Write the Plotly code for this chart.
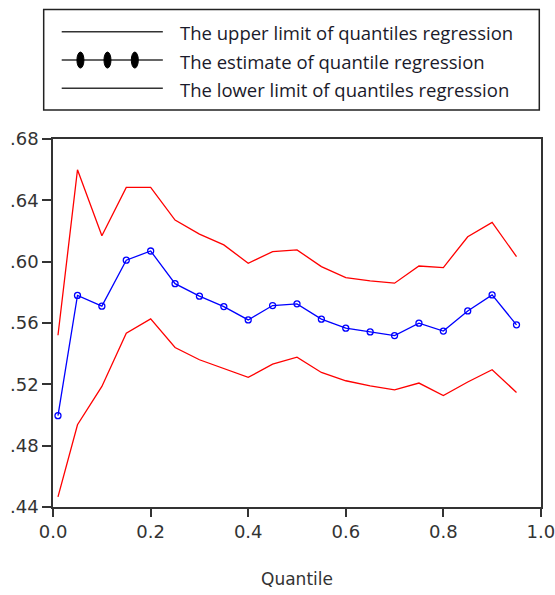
import plotly.graph_objects as go

quantiles = [0.01, 0.05, 0.10, 0.15, 0.20, 0.25, 0.30, 0.35, 0.40, 0.45,
             0.50, 0.55, 0.60, 0.65, 0.70, 0.75, 0.80, 0.85, 0.90, 0.95]
upper = [0.552, 0.660, 0.617, 0.6485, 0.6485, 0.6272, 0.618, 0.611, 0.599, 0.6066,
         0.6077, 0.5968, 0.5896, 0.5875, 0.586, 0.5972, 0.5962, 0.6163, 0.6257, 0.6033]
estimate = [0.4995, 0.578, 0.571, 0.601, 0.607, 0.5857, 0.5775, 0.5707, 0.562, 0.5714,
            0.5725, 0.5625, 0.5566, 0.5542, 0.5518, 0.5599, 0.5547, 0.5679, 0.5783, 0.5588]
lower = [0.4465, 0.4936, 0.5186, 0.5534, 0.5627, 0.544, 0.536, 0.530, 0.5245, 0.5332,
         0.5377, 0.5277, 0.5223, 0.519, 0.5164, 0.5208, 0.5127, 0.5215, 0.5295, 0.5147]

y_ticks = [0.44, 0.48, 0.52, 0.56, 0.60, 0.64, 0.68]
y_tick_labels = [".44", ".48", ".52", ".56", ".60", ".64", ".68"]
x_ticks = [0.0, 0.2, 0.4, 0.6, 0.8, 1.0]
x_tick_labels = ["0.0", "0.2", "0.4", "0.6", "0.8", "1.0"]
legend_labels = ["The upper limit of quantiles regression",
                 "The estimate of quantile regression",
                 "The lower limit of quantiles regression"]
x_title = "Quantile"

W, H = 555, 595
L, R, T, B = 53.3, 540.7, 139.0, 507.3


def px(x):
    return (x - L) / (R - L)


def py(y):
    return (B - y) / (B - T)


fig = go.Figure()
fig.add_trace(go.Scatter(x=quantiles, y=upper, mode="lines",
                         line=dict(color="#ff0000", width=1.3), showlegend=False))
fig.add_trace(go.Scatter(x=quantiles, y=lower, mode="lines",
                         line=dict(color="#ff0000", width=1.3), showlegend=False))
fig.add_trace(go.Scatter(x=quantiles, y=estimate, mode="lines+markers",
                         line=dict(color="#0000ff", width=1.3),
                         marker=dict(symbol="circle-open", size=6, color="#0000ff",
                                     line=dict(width=1.3)),
                         showlegend=False))

shapes = []
annotations = []
# legend box
shapes.append(dict(type="rect", xref="paper", yref="paper",
                   x0=px(44), x1=px(539), y0=py(110), y1=py(9.5),
                   line=dict(color="#222", width=1.5), fillcolor="rgba(0,0,0,0)"))
rows = [31.7, 60.0, 88.3]
for i, (yy, lab) in enumerate(zip(rows, legend_labels)):
    shapes.append(dict(type="line", xref="paper", yref="paper",
                       x0=px(62), x1=px(163), y0=py(yy), y1=py(yy),
                       line=dict(color="#333", width=1.5)))
    annotations.append(dict(text=lab, xref="paper", yref="paper",
                            x=px(178), y=py(yy + 1), xanchor="left", yanchor="middle",
                            showarrow=False,
                            font=dict(family="Open Sans", size=18.5, color="#1a1a2a")))
    if i == 1:
        for cx in [80.7, 107.7, 135.0]:
            shapes.append(dict(type="circle", xref="paper", yref="paper",
                               x0=px(cx - 3.5), x1=px(cx + 3.5),
                               y0=py(yy + 8), y1=py(yy - 8),
                               line=dict(color="#000", width=1), fillcolor="#000"))

fig.update_layout(
    width=W, height=H,
    margin=dict(l=L, r=W - R, t=T, b=H - B, pad=0, autoexpand=False),
    paper_bgcolor="white", plot_bgcolor="white",
    shapes=shapes, annotations=annotations,
    showlegend=False,
    font=dict(family="DejaVu Sans", size=17, color="#333"),
    xaxis=dict(range=[-0.0002, 1.0002], tickvals=x_ticks, ticktext=x_tick_labels,
               showgrid=False, zeroline=False, showline=True, linecolor="#333",
               linewidth=1.5, mirror=True, ticks="outside", ticklen=8,
               tickcolor="#333", tickwidth=1.5, ticklabeloverflow="allow",
               automargin=False,
               title=dict(text=x_title, standoff=32,
                          font=dict(family="DejaVu Sans", size=17, color="#333")),
               tickfont=dict(family="DejaVu Sans", size=18, color="#333")),
    yaxis=dict(range=[0.4399, 0.6801], tickvals=y_ticks, ticktext=y_tick_labels,
               showgrid=False, zeroline=False, showline=True, linecolor="#333",
               linewidth=1.5, mirror=True, ticks="outside", ticklen=9,
               tickcolor="#333", tickwidth=1.5, ticklabeloverflow="allow",
               automargin=False,
               tickfont=dict(family="DejaVu Sans", size=18, color="#333")),
)

fig.write_html("out.html")
